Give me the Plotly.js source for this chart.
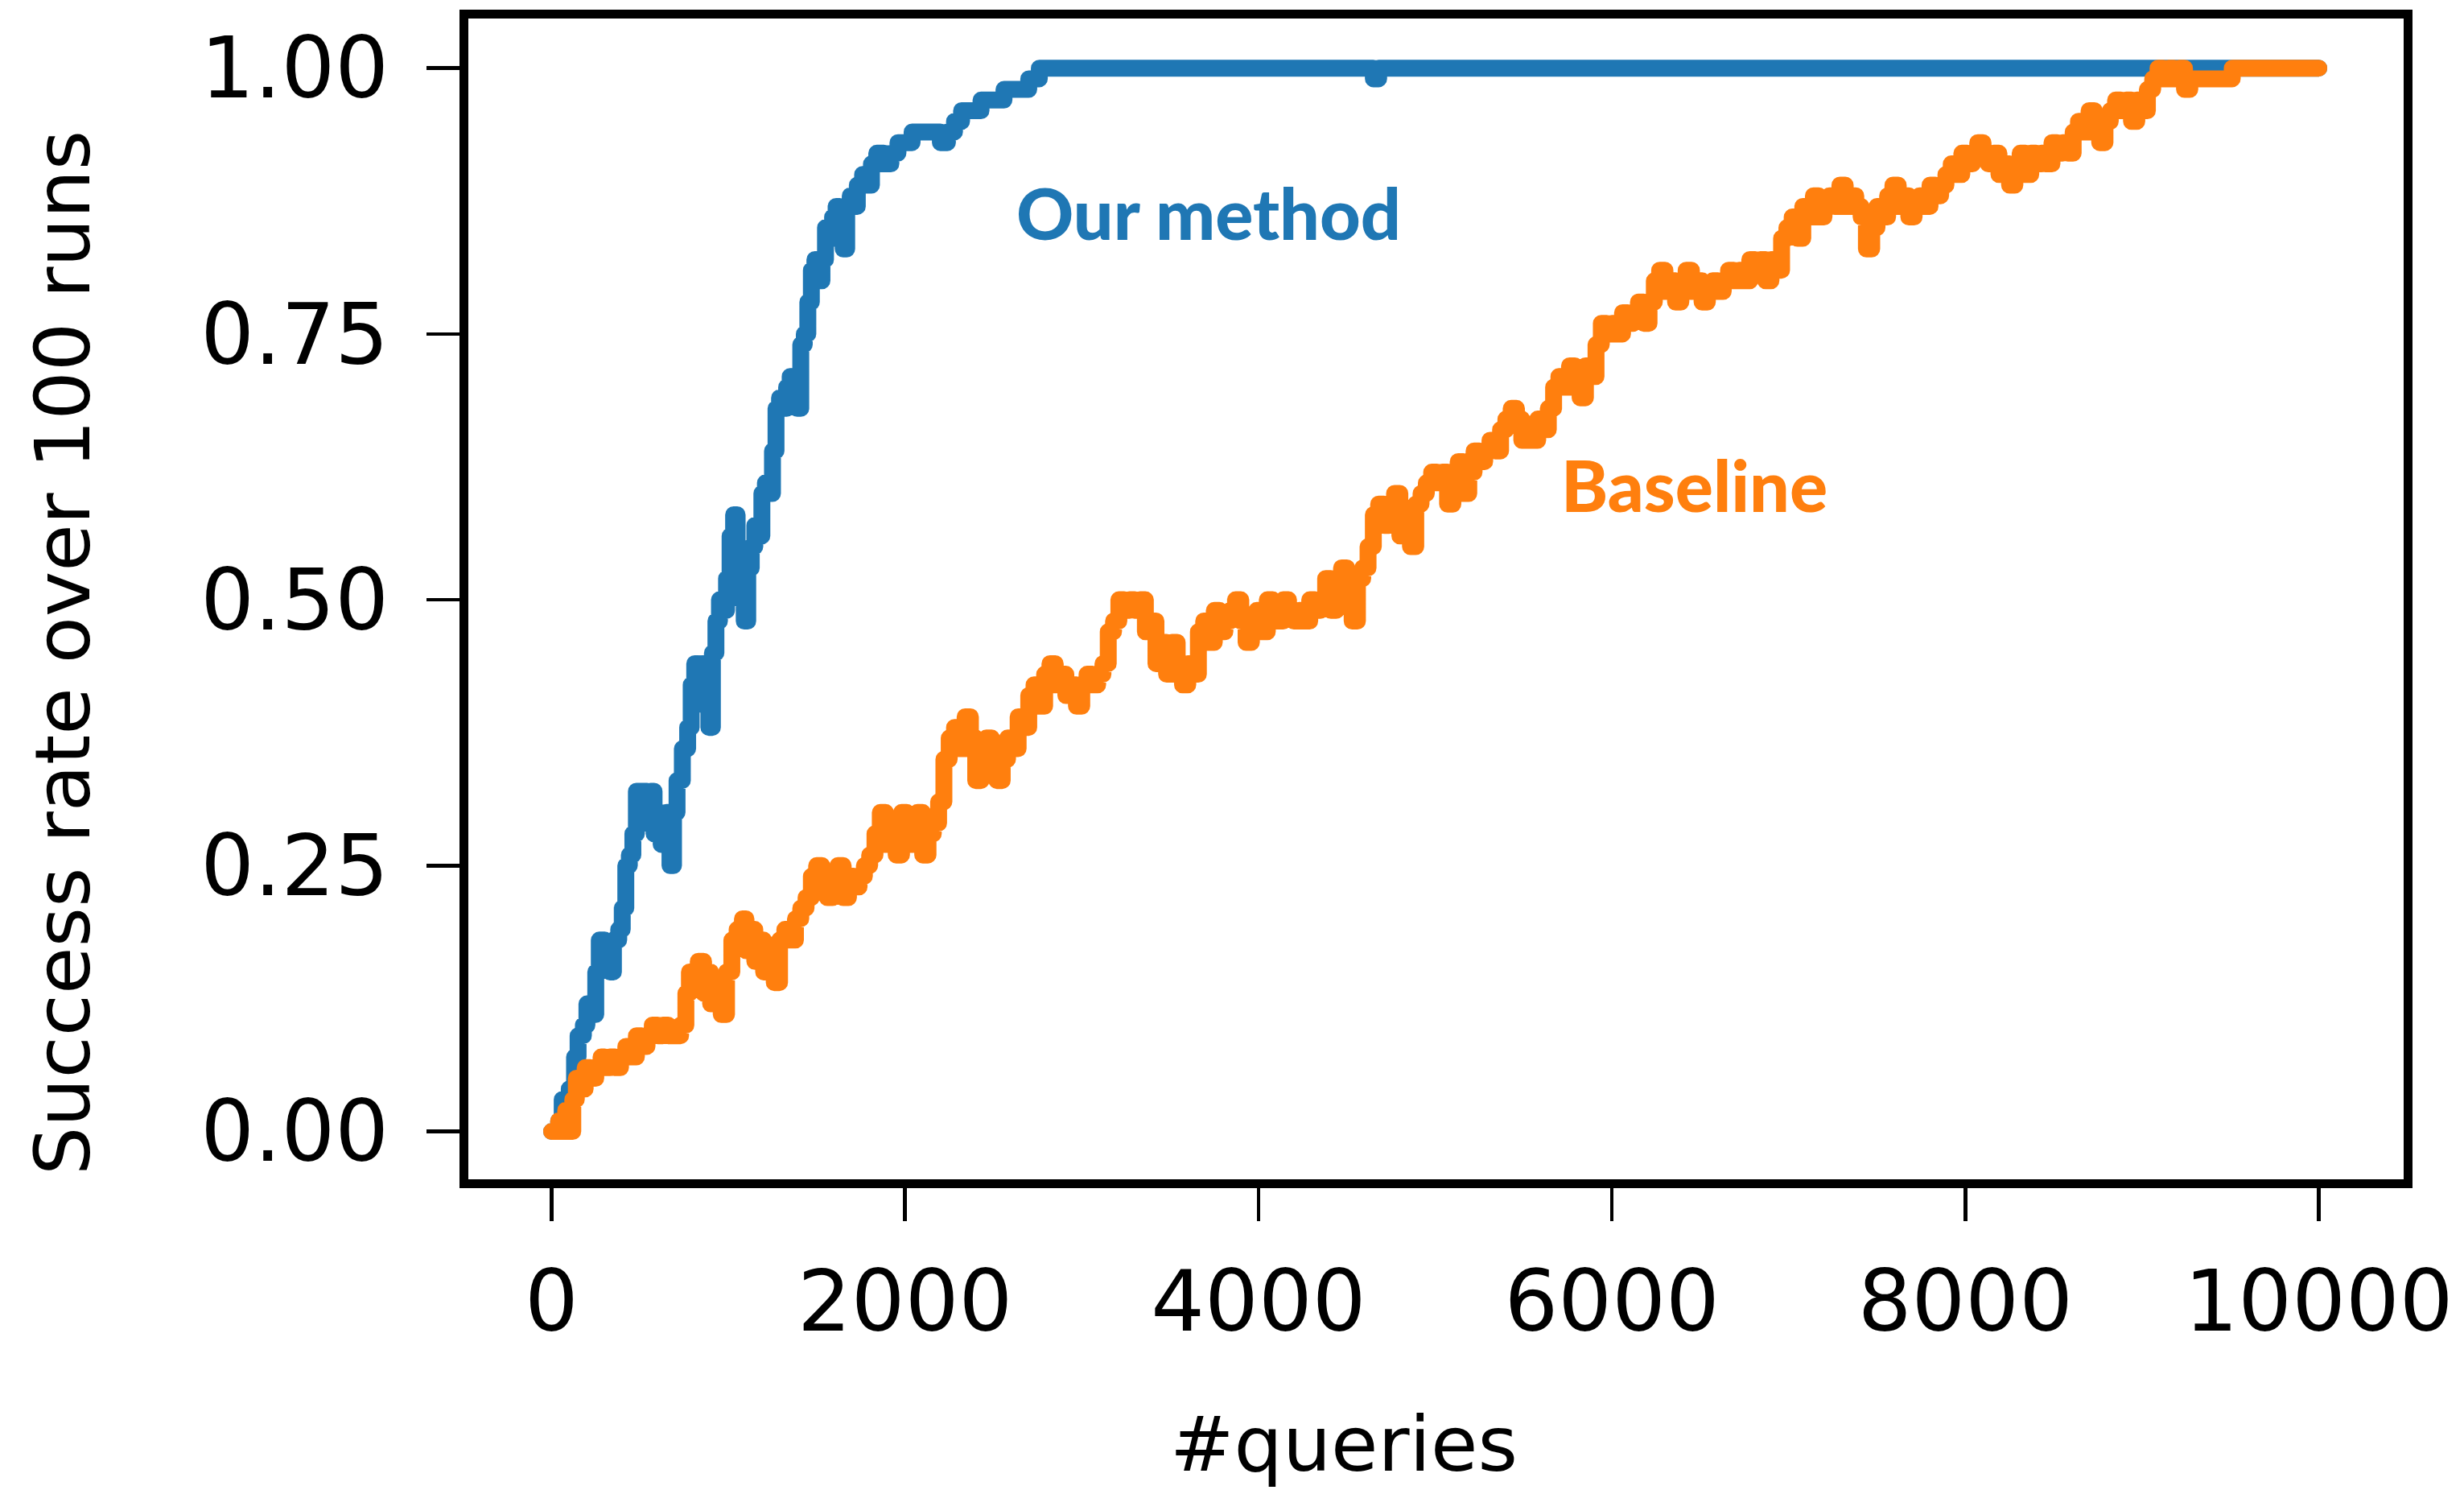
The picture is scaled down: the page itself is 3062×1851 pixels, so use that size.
<!DOCTYPE html>
<html>
<head>
<meta charset="utf-8">
<script src="https://cdn.plot.ly/plotly-3.0.1.min.js"></script>
<style>
html, body { margin: 0; padding: 0; background: #ffffff; }
#chart { width: 3062px; height: 1851px; }
.js-line { stroke-linejoin: round !important; stroke-linecap: round !important; }
</style>
</head>
<body>
<div id="chart"></div>
<script>
// ---- data ----
const oursQueries = [0,40,60,100,130,150,180,200,230,250,270,300,330,350,380,400,420,440,460,480,520,540,560,580,600,620,650,670,690,710,740,770,790,810,830,850,870,890,910,930,950,970,990,1010,1030,1050,1070,1090,1110,1130,1150,1170,1190,1210,1230,1250,1270,1290,1310,1330,1350,1370,1390,1410,1430,1450,1470,1490,1510,1530,1550,1570,1590,1610,1630,1650,1670,1690,1710,1730,1760,1790,1810,1840,1880,1920,1960,2000,2040,2100,2180,2200,2240,2280,2320,2400,2430,2520,2560,2650,2700,2760,4640,4650,4680,10000];
const oursRate = [0,0.01,0.03,0.04,0.07,0.09,0.10,0.12,0.11,0.15,0.18,0.17,0.15,0.18,0.19,0.21,0.25,0.26,0.28,0.32,0.32,0.29,0.32,0.28,0.30,0.27,0.30,0.25,0.30,0.33,0.36,0.38,0.42,0.44,0.41,0.44,0.40,0.38,0.45,0.48,0.50,0.49,0.52,0.56,0.58,0.54,0.50,0.48,0.53,0.55,0.57,0.56,0.60,0.61,0.60,0.64,0.68,0.69,0.68,0.70,0.71,0.69,0.68,0.74,0.75,0.78,0.81,0.82,0.80,0.82,0.85,0.84,0.86,0.87,0.85,0.83,0.87,0.88,0.87,0.89,0.90,0.89,0.91,0.92,0.91,0.92,0.93,0.93,0.94,0.94,0.94,0.93,0.94,0.95,0.96,0.96,0.97,0.97,0.98,0.98,0.99,1.00,1.00,0.99,1.00,1.00];

const baseQueries = [0,40,60,80,100,120,140,170,190,220,250,280,300,330,360,390,420,450,480,510,540,570,600,630,660,700,730,760,780,800,830,860,880,900,930,960,990,1020,1050,1080,1100,1120,1150,1180,1200,1230,1260,1290,1320,1350,1380,1410,1440,1470,1500,1530,1560,1590,1620,1650,1680,1710,1740,1770,1800,1830,1860,1890,1920,1950,1980,2010,2040,2070,2100,2130,2160,2190,2220,2250,2280,2310,2340,2370,2400,2430,2460,2490,2520,2550,2580,2610,2640,2670,2700,2730,2760,2790,2820,2850,2880,2910,2940,2970,3000,3030,3060,3090,3120,3150,3180,3210,3240,3270,3300,3330,3360,3390,3420,3450,3480,3510,3540,3570,3600,3630,3660,3690,3720,3750,3780,3810,3840,3870,3900,3930,3960,3990,4020,4050,4080,4110,4140,4170,4200,4230,4260,4290,4320,4350,4380,4410,4440,4470,4500,4530,4560,4590,4620,4650,4680,4710,4740,4770,4800,4830,4860,4890,4920,4950,4980,5010,5040,5070,5100,5130,5160,5190,5220,5250,5280,5310,5340,5370,5400,5430,5460,5490,5520,5550,5580,5610,5640,5670,5700,5730,5760,5790,5820,5850,5880,5910,5940,5970,6000,6030,6060,6090,6120,6150,6180,6210,6240,6270,6300,6330,6360,6390,6420,6450,6480,6510,6540,6570,6600,6630,6660,6690,6720,6750,6780,6810,6840,6870,6900,6930,6960,6990,7020,7050,7080,7110,7140,7170,7200,7230,7260,7290,7320,7350,7380,7410,7440,7470,7500,7530,7560,7590,7620,7650,7680,7710,7740,7770,7800,7830,7860,7890,7920,7950,7980,8010,8040,8070,8100,8130,8160,8190,8220,8250,8280,8310,8340,8370,8400,8430,8460,8490,8520,8550,8580,8610,8640,8670,8700,8730,8760,8790,8820,8850,8880,8910,8940,8970,9000,9030,9060,9090,9120,9150,9180,9210,9240,9270,9300,9480,9510,10000];
const baseRate = [0,0.01,0.0,0.02,0.0,0.03,0.05,0.04,0.06,0.05,0.06,0.07,0.06,0.07,0.06,0.07,0.08,0.07,0.09,0.08,0.09,0.10,0.09,0.10,0.09,0.09,0.10,0.13,0.15,0.14,0.16,0.13,0.15,0.12,0.14,0.11,0.15,0.18,0.19,0.20,0.17,0.19,0.16,0.18,0.15,0.17,0.14,0.18,0.19,0.18,0.20,0.21,0.22,0.24,0.25,0.24,0.22,0.24,0.25,0.22,0.24,0.23,0.24,0.25,0.26,0.28,0.30,0.27,0.29,0.26,0.30,0.27,0.29,0.30,0.26,0.28,0.29,0.31,0.35,0.37,0.38,0.36,0.39,0.37,0.33,0.35,0.37,0.36,0.33,0.35,0.37,0.36,0.39,0.38,0.41,0.42,0.40,0.43,0.44,0.42,0.43,0.41,0.42,0.40,0.42,0.43,0.42,0.43,0.44,0.47,0.48,0.50,0.49,0.50,0.49,0.50,0.47,0.48,0.44,0.46,0.43,0.46,0.44,0.42,0.44,0.43,0.47,0.48,0.46,0.49,0.47,0.48,0.49,0.50,0.48,0.46,0.48,0.49,0.47,0.50,0.49,0.48,0.50,0.49,0.48,0.49,0.48,0.50,0.49,0.50,0.52,0.49,0.51,0.53,0.50,0.48,0.52,0.53,0.55,0.58,0.59,0.57,0.58,0.60,0.56,0.58,0.55,0.59,0.60,0.61,0.62,0.61,0.62,0.59,0.61,0.63,0.60,0.62,0.64,0.63,0.64,0.65,0.64,0.66,0.67,0.68,0.67,0.65,0.66,0.65,0.67,0.66,0.68,0.70,0.71,0.70,0.72,0.71,0.69,0.72,0.71,0.74,0.76,0.75,0.76,0.75,0.77,0.76,0.77,0.78,0.76,0.78,0.80,0.81,0.79,0.80,0.78,0.80,0.81,0.79,0.80,0.78,0.79,0.80,0.79,0.80,0.81,0.80,0.81,0.80,0.82,0.81,0.82,0.80,0.82,0.81,0.84,0.85,0.86,0.84,0.87,0.86,0.88,0.86,0.87,0.88,0.87,0.89,0.87,0.88,0.87,0.86,0.83,0.85,0.87,0.86,0.88,0.89,0.87,0.88,0.86,0.87,0.88,0.87,0.89,0.88,0.89,0.90,0.91,0.90,0.92,0.91,0.92,0.93,0.92,0.91,0.92,0.90,0.91,0.89,0.91,0.92,0.90,0.92,0.91,0.92,0.91,0.93,0.92,0.93,0.92,0.94,0.95,0.94,0.96,0.95,0.93,0.95,0.96,0.97,0.96,0.97,0.95,0.97,0.96,0.98,0.99,1.00,0.99,1.00,0.99,1.00,0.98,0.99,0.99,0.99,1.00,1.00];

const xTicks = [0, 2000, 4000, 6000, 8000, 10000];
const yTicks = [0, 0.25, 0.5, 0.75, 1.0];
const seriesNames = ["Our method", "Baseline"];
const xLabel = "#queries";
const yLabel = "Success rate over 100 runs";

const BLUE = "#1f77b4", ORANGE = "#ff7f0e";
const tickFont = { family: "DejaVu Sans", size: 105, color: "#000000" };

const traces = [
  { x: oursQueries, y: oursRate, name: seriesNames[0], mode: "lines",
    line: { color: BLUE, width: 21, shape: "hv" } },
  { x: baseQueries, y: baseRate, name: seriesNames[1], mode: "lines",
    line: { color: ORANGE, width: 21, shape: "hv" } }
];

const axisCommon = {
  showline: true, linecolor: "#000000", linewidth: 11, mirror: true,
  ticks: "outside", ticklen: 41, tickwidth: 4.5, tickcolor: "#000000",
  showgrid: false, zeroline: false, tickfont: tickFont
};

const layout = {
  width: 3062, height: 1851,
  margin: { l: 582, r: 75, t: 23, b: 386, pad: 0 },
  paper_bgcolor: "#ffffff", plot_bgcolor: "#ffffff",
  showlegend: false,
  xaxis: Object.assign({}, axisCommon, {
    range: [-471, 10480], tickvals: xTicks, ticktext: xTicks.map(String),
    ticklabelstandoff: 10
  }),
  yaxis: Object.assign({}, axisCommon, {
    range: [-0.045, 1.0467], tickvals: yTicks, ticktext: yTicks.map(v => v.toFixed(2)),
    ticklabelstandoff: 26
  }),
  annotations: [
    { text: seriesNames[0], xref: "paper", yref: "paper", x: 0.2825, y: 0.833,
      xanchor: "left", yanchor: "middle", showarrow: false,
      font: { family: "Lato", size: 88, weight: 900, color: BLUE } },
    { text: seriesNames[1], xref: "paper", yref: "paper", x: 0.5640, y: 0.5985,
      xanchor: "left", yanchor: "middle", showarrow: false,
      font: { family: "Lato", size: 88, weight: 900, color: ORANGE } },
    { text: yLabel, xref: "paper", yref: "paper", x: -0.2096, y: 0.4535, textangle: -90,
      xanchor: "center", yanchor: "middle", showarrow: false,
      font: { family: "DejaVu Sans", size: 95, color: "#000000" } },
    { text: xLabel, xref: "paper", yref: "paper", x: 0.4524, y: -0.228,
      xanchor: "center", yanchor: "middle", showarrow: false,
      font: { family: "DejaVu Sans", size: 95, color: "#000000" } }
  ]
};

Plotly.newPlot("chart", traces, layout, { staticPlot: true, displayModeBar: false });
</script>
</body>
</html>
